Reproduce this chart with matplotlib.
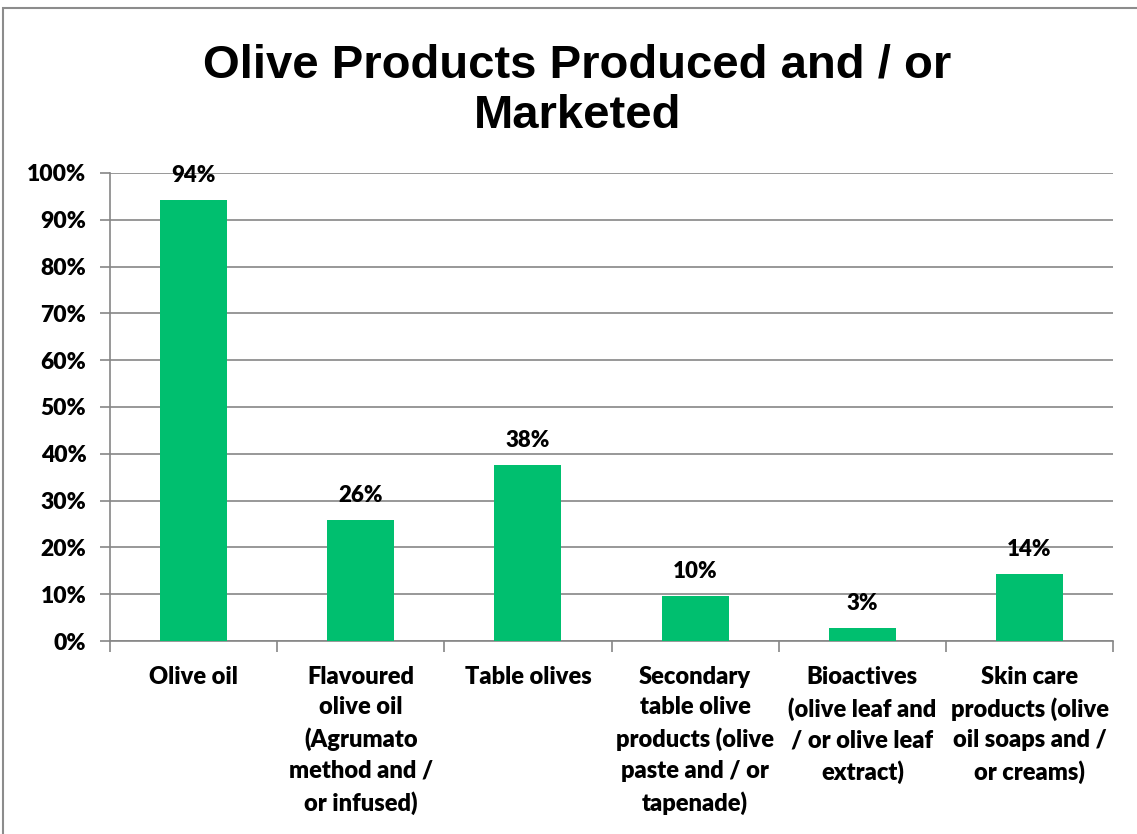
import matplotlib.pyplot as plt
import numpy as np

plt.rcParams['font.family'] = ['Lato', 'DejaVu Sans']

categories = ['Olive oil',
              'Flavoured\nolive oil\n(Agrumato\nmethod and /\nor infused)',
              'Table olives',
              'Secondary\ntable olive\nproducts (olive\npaste and / or\ntapenade)',
              'Bioactives\n(olive leaf and\n/ or olive leaf\nextract)',
              'Skin care\nproducts (olive\noil soaps and /\nor creams)']
shares = [94.2, 25.9, 37.6, 9.6, 2.8, 14.3]
yticks = [0, 10, 20, 30, 40, 50, 60, 70, 80, 90, 100]

bar_color = '#00BF6F'
grid_color = '#868686'

fig = plt.figure(figsize=(11.37, 8.34), dpi=100)
ax = fig.add_axes([0.0967, 0.2314, 0.8823, 0.5612])

x = np.arange(len(categories))
bars = ax.bar(x, shares, width=0.4, color=bar_color, zorder=3)

for b, v in zip(bars, shares):
    ax.annotate('%d%%' % round(v), (b.get_x() + b.get_width() / 2, v),
                xytext=(0, 10), textcoords='offset points',
                ha='center', va='bottom', fontsize=16, fontweight='heavy')

ax.set_xlim(-0.5, len(categories) - 0.5)
ax.set_ylim(0, 100)
ax.set_yticks(yticks)
ax.set_yticklabels(['%d%%' % t for t in yticks], fontsize=16.5, fontweight='heavy')
ax.yaxis.grid(True, color=grid_color, linewidth=1.2, zorder=0)

# categories sit between boundary ticks
ax.set_xticks(x)
ax.set_xticklabels(categories, fontsize=17, fontweight='heavy', linespacing=1.47, va='top')
ax.set_xticks(np.arange(len(categories) + 1) - 0.5, minor=True)
ax.tick_params(axis='x', which='major', length=0, pad=18)
ax.tick_params(axis='x', which='minor', length=8, color=grid_color, width=1.2)
ax.tick_params(axis='y', length=7, color=grid_color, width=1.2, pad=10)

for side in ['top', 'right']:
    ax.spines[side].set_visible(False)
for side in ['left', 'bottom']:
    ax.spines[side].set_color(grid_color)
    ax.spines[side].set_linewidth(1.2)

fig.text(0.508, 0.891, 'Olive Products Produced and / or\nMarketed', ha='center', va='center',
         fontsize=34, fontweight='bold', family='Liberation Sans', linespacing=1.2)

# outer chart border
fig.patches.append(plt.Rectangle((0.003, -0.01), 1.1, 1.0, transform=fig.transFigure,
                                 fill=False, edgecolor='#8c8c8c', linewidth=1.5))

fig.savefig('out.png', dpi=100)
